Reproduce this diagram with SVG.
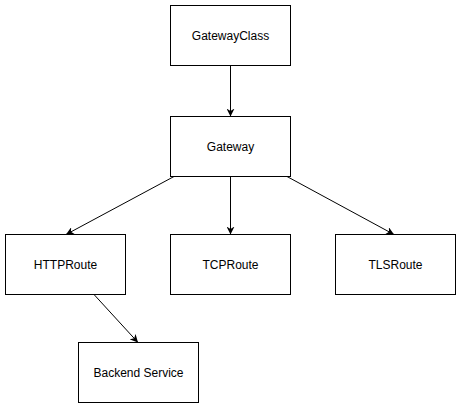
<svg xmlns="http://www.w3.org/2000/svg" width="461" height="408" viewBox="0 0 461 408">
<style>
.node rect{fill:#fff;stroke:#000;stroke-width:1}
.node text{font-family:"Liberation Sans",Arial,sans-serif;font-size:12px;fill:#000;text-anchor:middle}
.edge{stroke:#000;stroke-width:1;fill:none;marker-end:url(#arr)}
</style>
<defs>
<marker id="arr" viewBox="0 0 10 10" refX="10" refY="5" markerWidth="8" markerHeight="8" markerUnits="userSpaceOnUse" orient="auto">
<path d="M0,0 L10,5 L0,10 L3,5 z" fill="#000"/>
</marker>
</defs>
<rect width="461" height="408" fill="#fff"/>
<g id="connectors">
<line class="edge" x1="230.5" y1="65.5" x2="230.5" y2="116.5"/>
<line class="edge" x1="174" y1="176.5" x2="66" y2="234.5"/>
<line class="edge" x1="230.5" y1="176.5" x2="230.5" y2="234.5"/>
<line class="edge" x1="287" y1="176.5" x2="394" y2="234.5"/>
<line class="edge" x1="94" y1="294.5" x2="138" y2="342.5"/>
</g>
<g id="GatewayClass" class="node"><rect x="170.5" y="5.5" width="120" height="60"/><text x="230.5" y="39.5">GatewayClass</text></g>
<g id="Gateway" class="node"><rect x="170.5" y="116.5" width="120" height="60"/><text x="230.5" y="150.5">Gateway</text></g>
<g id="HTTPRoute" class="node"><rect x="5.5" y="234.5" width="120" height="60"/><text x="65.5" y="268.5">HTTPRoute</text></g>
<g id="TCPRoute" class="node"><rect x="170.5" y="234.5" width="120" height="60"/><text x="230.5" y="268.5">TCPRoute</text></g>
<g id="TLSRoute" class="node"><rect x="335.5" y="234.5" width="120" height="60"/><text x="395.5" y="268.5">TLSRoute</text></g>
<g id="BackendService" class="node"><rect x="78.5" y="342.5" width="120" height="60"/><text x="138.5" y="376.5">Backend Service</text></g>
</svg>
